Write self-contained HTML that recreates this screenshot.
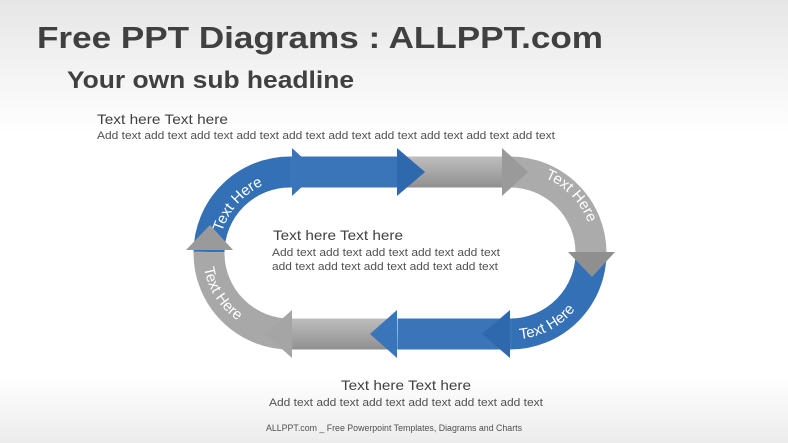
<!DOCTYPE html>
<html><head><meta charset="utf-8"><style>
html,body{margin:0;padding:0;width:788px;height:443px;overflow:hidden;background:#fff}
svg{display:block}
text{font-family:"Liberation Sans",Arial,sans-serif}
</style></head><body>
<svg width="788" height="443" viewBox="0 0 788 443" xmlns="http://www.w3.org/2000/svg">
<defs>
<linearGradient id="bg" x1="0" y1="0" x2="0" y2="1">
<stop offset="0" stop-color="#e6e6e6"/><stop offset="0.3" stop-color="#ffffff"/><stop offset="0.85" stop-color="#ffffff"/><stop offset="1" stop-color="#ececec"/>
</linearGradient>
<linearGradient id="gt" gradientUnits="userSpaceOnUse" x1="0" y1="157" x2="0" y2="188"><stop offset="0" stop-color="#bdbdbd"/><stop offset="1" stop-color="#8f8f8f"/></linearGradient>
<linearGradient id="gb" gradientUnits="userSpaceOnUse" x1="0" y1="319" x2="0" y2="350"><stop offset="0" stop-color="#bdbdbd"/><stop offset="1" stop-color="#8f8f8f"/></linearGradient>
<path id="p1" d="M222,232 A77,77 0 0 1 300,178"/>
<path id="p4" d="M545,178 A77,77 0 0 1 593,250"/>
<path id="p5" d="M520,339 A81,81 0 0 0 586,292"/>
<path id="p8" d="M204,268 A81,81 0 0 0 262,332"/>
</defs>
<rect width="788" height="443" fill="url(#bg)"/>
<text x="37" y="48" font-size="31" font-weight="bold" fill="#404040" textLength="566" lengthAdjust="spacingAndGlyphs">Free PPT Diagrams : ALLPPT.com</text>
<text x="67" y="88" font-size="24" font-weight="bold" fill="#404040" textLength="287" lengthAdjust="spacingAndGlyphs">Your own sub headline</text>
<text x="97" y="124" font-size="14" fill="#404040" textLength="131" lengthAdjust="spacingAndGlyphs">Text here Text here</text>
<text x="97" y="139" font-size="11" fill="#505050" textLength="458" lengthAdjust="spacingAndGlyphs">Add text add text add text add text add text add text add text add text add text add text</text>

<g fill="none" stroke-width="31">
<path d="M209,252 A81,81 0 0 1 290,172 L294,172" stroke="#3470b6"/>
<path d="M290,172 L400,172" stroke="#3a74b9"/>
<path d="M398,172 L505,172" stroke="url(#gt)"/>
<path d="M505,172 L510,172 A81,81 0 0 1 591,252" stroke="#ababab"/>
<path d="M591,252 A81,81 0 0 1 510,334" stroke="#3470b6"/>
<path d="M512,334 L395,334" stroke="#3a74b9"/>
<path d="M398,334 L290,334" stroke="url(#gb)"/>
<path d="M292,334 A81,81 0 0 1 209,252" stroke="#a8a8a8"/>
</g>
<g>
<polygon points="292,148 318,172 292,196" fill="#3a74b9"/>
<polygon points="397,148 425,172 397,196" fill="#2f69ad"/>
<polygon points="502,148 528,172 502,196" fill="#9a9a9a"/>
<polygon points="568,252 615,252 592,277" fill="#8f8f8f"/>
<polygon points="510,310 482,334 510,358" fill="#2f69ad"/>
<polygon points="397,310 370,334 397,358" fill="#3a74b9"/>
<polygon points="292,310 265,334 292,358" fill="#a5a5a5"/>
<polygon points="186,250 233,250 210,225" fill="#9a9a9a"/>
</g>
<g font-size="15" fill="#ffffff">
<text><textPath href="#p1">Text Here</textPath></text>
<text><textPath href="#p4">Text Here</textPath></text>
<text><textPath href="#p5">Text Here</textPath></text>
<text><textPath href="#p8">Text Here</textPath></text>
</g>

<text x="273" y="240" font-size="14" fill="#404040" textLength="130" lengthAdjust="spacingAndGlyphs">Text here Text here</text>
<text x="272" y="256" font-size="11" fill="#505050" textLength="228" lengthAdjust="spacingAndGlyphs">Add text add text add text add text add text</text>
<text x="272" y="270" font-size="11" fill="#505050" textLength="226" lengthAdjust="spacingAndGlyphs">add text add text add text add text add text</text>
<text x="341" y="390" font-size="14" fill="#404040" textLength="130" lengthAdjust="spacingAndGlyphs">Text here Text here</text>
<text x="269" y="406" font-size="11" fill="#505050" textLength="274" lengthAdjust="spacingAndGlyphs">Add text add text add text add text add text add text</text>
<text x="266" y="431" font-size="9" fill="#505050" textLength="256" lengthAdjust="spacingAndGlyphs">ALLPPT.com _ Free Powerpoint Templates, Diagrams and Charts</text>
</svg>
</body></html>
